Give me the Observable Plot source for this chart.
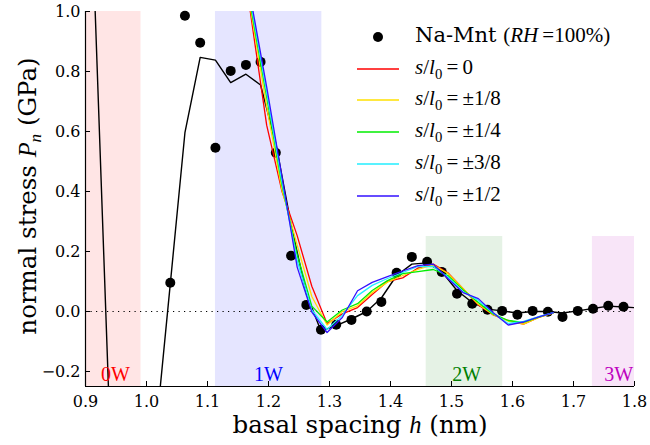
<!DOCTYPE html>
<html>
<head>
<meta charset="utf-8">
<script src="https://cdn.jsdelivr.net/npm/d3@7"></script>
<script src="https://cdn.jsdelivr.net/npm/@observablehq/plot@0.6"></script>
<style>
  html, body { margin: 0; padding: 0; background: #fff; }
  #wrap { position: relative; width: 650px; height: 445px; font-family: "DejaVu Serif", serif; color: #000; }
  #wrap > svg { font-family: "DejaVu Serif", serif !important; font-size: 16px !important; }
  #wrap > svg g[aria-label*="axis"], #wrap > svg g[aria-label*="axis"] text { font-family: "DejaVu Serif", serif !important; font-size: 16px !important; }
  .math { font-family: "Liberation Serif", serif; font-style: italic; }
  .cm { font-family: "Liberation Serif", serif; }
  #xlab { position: absolute; left: 360px; top: 424px; transform: translate(-50%, -50%); font-size: 24.5px; white-space: nowrap; }
  #ylab { position: absolute; left: 27px; top: 196px; transform: translate(-50%, -50%) rotate(-90deg); font-size: 24.5px; white-space: nowrap; }
  .lrow { position: absolute; left: 357px; height: 0; white-space: nowrap; }
  .lsw { position: absolute; left: 0; top: -6px; }
  .ltx { position: absolute; left: 58px; top: 0; transform: translateY(-55%); font-size: 21px; line-height: 1; }
  sub { font-size: 70%; vertical-align: -0.3em; line-height: 0; }
</style>
</head>
<body>
<div id="wrap"></div>
<script>
// ---- axes ----
const xDomain = [0.9, 1.8];
const yDomain = [-0.25, 1.0];
const xTicks = [0.9, 1.0, 1.1, 1.2, 1.3, 1.4, 1.5, 1.6, 1.7, 1.8];
const yTicks = [-0.2, 0.0, 0.2, 0.4, 0.6, 0.8, 1.0];

// ---- shaded hydration-state regions ----
const regionLabels = ["0W", "1W", "2W", "3W"];
const regionStart = [0.88, 1.113, 1.4585, 1.731];
const regionEnd = [0.991, 1.2875, 1.584, 1.83];
const regionTop = [1.0, 1.0, 0.25, 0.25];
const regionLabelX = [0.949, 1.2, 1.525, 1.774];
const regionLabelY = [-0.21, -0.21, -0.21, -0.21];
const regionColors = ["#ff0000", "#0000ff", "#008000", "#bf00bf"];

// ---- Na-Mnt (RH=100%) points ----
const hDots = [1.039, 1.063, 1.088, 1.113, 1.138, 1.163, 1.187, 1.212, 1.237, 1.262, 1.286,
  1.311, 1.336, 1.361, 1.385, 1.410, 1.435, 1.460, 1.484, 1.509, 1.534, 1.559, 1.583,
  1.608, 1.633, 1.658, 1.682, 1.707, 1.732, 1.757, 1.782];
const pDots = [0.096, 0.986, 0.896, 0.546, 0.802, 0.822, 0.832, 0.529, 0.186, 0.022, -0.061,
  -0.044, -0.028, 0.000, 0.032, 0.129, 0.182, 0.166, 0.132, 0.059, 0.026, 0.006, 0.002,
  -0.011, 0.002, -0.001, -0.018, 0.002, 0.009, 0.019, 0.016];

// ---- black reference curve ----
const hBlack = [0.915, 0.940, 0.964, 0.989, 1.014, 1.039, 1.063, 1.088, 1.113, 1.138, 1.163,
  1.187, 1.212, 1.237, 1.262, 1.286, 1.311, 1.336, 1.361, 1.385, 1.410, 1.435, 1.460, 1.484,
  1.509, 1.534, 1.559, 1.583, 1.608, 1.633, 1.658, 1.682, 1.707, 1.732, 1.757, 1.782, 1.807];
const pBlack = [1.05, -0.39, -0.60, -0.60, -0.43, 0.092, 0.596, 0.847, 0.838, 0.763, 0.791,
  0.755, 0.560, 0.290, 0.060, -0.065, -0.047, -0.025, 0.000, 0.045, 0.120, 0.158, 0.162, 0.133,
  0.070, 0.030, 0.008, 0.002, -0.005, 0.000, 0.000, -0.005, 0.002, 0.010, 0.018, 0.015, 0.012];

// ---- s/l0 series ----
const hSim = [1.147, 1.172, 1.197, 1.222, 1.247, 1.271, 1.296, 1.321, 1.346, 1.370, 1.395,
  1.420, 1.445, 1.470, 1.494, 1.519, 1.544, 1.568, 1.593, 1.618, 1.643, 1.667];
const pRed    = [1.33, 0.974, 0.621, 0.401, 0.253, 0.084, -0.040, -0.008, 0.013, 0.057, 0.100,
  0.112, 0.145, 0.158, 0.129, 0.076, 0.022, -0.011, -0.030, -0.042, -0.020, -0.005];
const pYellow = [1.30, 0.991, 0.683, 0.406, 0.221, 0.050, -0.045, 0.000, 0.019, 0.063, 0.098,
  0.120, 0.140, 0.155, 0.127, 0.076, 0.024, -0.010, -0.032, -0.042, -0.020, -0.005];
const pGreen  = [1.29, 1.003, 0.715, 0.422, 0.189, 0.018, -0.035, 0.005, 0.026, 0.070, 0.103,
  0.126, 0.133, 0.140, 0.120, 0.072, 0.030, -0.008, -0.030, -0.036, -0.019, -0.004];
const pCyan   = [1.30, 1.017, 0.731, 0.433, 0.169, 0.005, -0.060, -0.012, 0.053, 0.087, 0.110,
  0.130, 0.150, 0.150, 0.115, 0.066, 0.037, -0.005, -0.040, -0.033, -0.017, -0.004];
const pBlue   = [1.31, 1.030, 0.749, 0.450, 0.148, -0.002, -0.070, -0.020, 0.069, 0.097, 0.116,
  0.135, 0.153, 0.158, 0.110, 0.063, 0.043, -0.003, -0.045, -0.035, -0.018, -0.004];

const seriesFractions = ["0", "±1/8", "±1/4", "±3/8", "±1/2"];
const seriesValues = [pRed, pYellow, pGreen, pCyan, pBlue];
const seriesColors = ["#ff0000", "#ffe000", "#00ee00", "#22eeff", "#3311ff"];
const seriesLabels = seriesFractions.map(f =>
  '<i class="math">s</i><span class="cm">/</span><i class="math">l</i><sub class="cm">0</sub><span class="cm">&#8201;=&#8201;' + f + '</span>');
const dotLabel = 'Na-Mnt <span class="cm">(</span><i class="math">RH</i><span class="cm">&#8201;=100%)</span>';

// ---- tables ----
const regions = regionLabels.map((label, i) => ({
  label, x1: regionStart[i], x2: regionEnd[i], y1: yDomain[0], y2: regionTop[i],
  lx: regionLabelX[i], ly: regionLabelY[i], color: regionColors[i]
}));
const dots = hDots.map((h, i) => ({h, p: pDots[i]}));
const blackRows = hBlack.map((h, i) => ({h, p: pBlack[i]}));
const simTables = seriesValues.map(vals => hSim.map((h, j) => ({h, p: vals[j]})));

const marks = [
  Plot.rect(regions, {x1: "x1", x2: "x2", y1: "y1", y2: "y2", fill: "color", fillOpacity: 0.1, clip: true}),
  Plot.ruleY([0], {stroke: "#000", strokeWidth: 1.1, strokeDasharray: "1.2,4.3"}),
  Plot.dot(dots, {x: "h", y: "p", r: 5, fill: "#000", stroke: "none"}),
  Plot.line(blackRows, {x: "h", y: "p", stroke: "#000", strokeWidth: 1.4, clip: true}),
  ...simTables.map((rows, i) => Plot.line(rows, {x: "h", y: "p", stroke: seriesColors[i], strokeWidth: 1.3, clip: true})),
  Plot.text(regions, {x: "lx", y: "ly", text: "label", fill: "color", fontSize: 20, fontFamily: "Liberation Serif"}),
  Plot.ruleX([xDomain[0]], {stroke: "#000", strokeWidth: 1.2}),
  Plot.ruleY([yDomain[0]], {stroke: "#000", strokeWidth: 1.2}),
  Plot.axisX({ticks: xTicks, tickFormat: ".1f", tickSize: 0, tickPadding: 9, label: null, fontFamily: "DejaVu Serif"}),
  Plot.axisX({ticks: xTicks, tickSize: 5, dy: -5, tickFormat: () => "", label: null}),
  Plot.axisY({ticks: yTicks, tickFormat: ".1f", tickSize: 0, tickPadding: 5, label: null, fontFamily: "DejaVu Serif"}),
  Plot.axisY({ticks: yTicks, tickSize: 5, dx: 5, tickFormat: () => "", label: null})
];

const chart = Plot.plot({
  width: 650, height: 445,
  marginLeft: 85, marginRight: 16, marginTop: 11, marginBottom: 59,
  x: {domain: xDomain, axis: null},
  y: {domain: yDomain, axis: null},
  style: {fontFamily: "DejaVu Serif", fontSize: "16px", background: "#fff", color: "#000", overflow: "visible"},
  marks
});

const wrap = document.getElementById("wrap");
wrap.appendChild(chart);

// axis titles
const xl = document.createElement("div");
xl.id = "xlab";
xl.innerHTML = 'basal spacing <i class="math">h</i> (nm)';
wrap.appendChild(xl);
const yl = document.createElement("div");
yl.id = "ylab";
yl.innerHTML = 'normal stress <i class="math">P<sub>n</sub></i> (GPa)';
wrap.appendChild(yl);

// legend
const legendRows = [{kind: "dot", html: dotLabel, color: "#000"}]
  .concat(seriesLabels.map((html, i) => ({kind: "line", html, color: seriesColors[i]})));
legendRows.forEach((row, i) => {
  const r = document.createElement("div");
  r.className = "lrow";
  r.style.top = Math.round(37 + 31.7 * i) + "px";
  const sw = document.createElement("div");
  sw.className = "lsw";
  const glyph = row.kind === "line"
    ? '<line x1="0" x2="42" y1="6" y2="6" stroke="' + row.color + '" stroke-width="1.6"/>'
    : '<circle cx="21" cy="6" r="5" fill="' + row.color + '"/>';
  sw.innerHTML = '<svg width="42" height="12" style="display:block">' + glyph + '</svg>';
  r.appendChild(sw);
  const tx = document.createElement("div");
  tx.className = "ltx";
  tx.innerHTML = row.html;
  r.appendChild(tx);
  wrap.appendChild(r);
});
</script>
</body>
</html>
